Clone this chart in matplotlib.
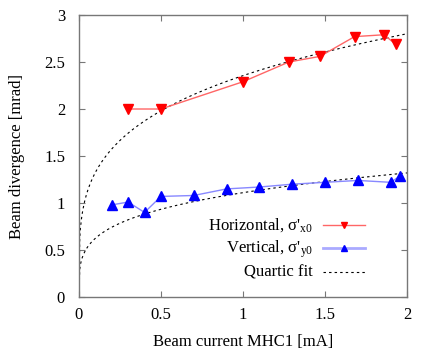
import numpy as np
import matplotlib
matplotlib.use("Agg")
import matplotlib.pyplot as plt

# measured beam divergence vs. beam current
hor_current = [0.30, 0.50, 1.00, 1.28, 1.47, 1.68, 1.86, 1.93]
hor_div = [2.00, 2.00, 2.29, 2.50, 2.56, 2.77, 2.79, 2.69]

ver_current = [0.20, 0.30, 0.40, 0.50, 0.70, 0.90, 1.10, 1.30, 1.50, 1.70, 1.90, 1.96]
ver_div = [0.98, 1.01, 0.90, 1.07, 1.08, 1.15, 1.17, 1.20, 1.22, 1.24, 1.22, 1.29]

# fit y = a * x^(1/4)
fit_coef_hor = 2.355
fit_coef_ver = 1.11

x_ticks = [0, 0.5, 1, 1.5, 2]
y_ticks = [0, 0.5, 1, 1.5, 2, 2.5, 3]

plt.rcParams['font.family'] = ['Liberation Serif', 'DejaVu Serif']
plt.rcParams['mathtext.fontset'] = 'stix'

fig = plt.figure(figsize=(4.36, 3.49), dpi=100)
ax = fig.add_axes([0.181, 0.149, 0.7525, 0.808])

fit_ls = (0, (2.2, 2.8))
xf = np.linspace(0, 2, 400)
ax.plot(xf, fit_coef_hor * xf ** 0.25, color='black', lw=0.8, ls=fit_ls)
ax.plot(xf, fit_coef_ver * xf ** 0.25, color='black', lw=0.8, ls=fit_ls)

ax.plot(hor_current, hor_div, color='#ff6666', lw=1.0)
ax.plot(hor_current, hor_div, ls='none', marker='v', ms=6.5, color='red', mec='red')
ax.plot(ver_current, ver_div, color='#8888ff', lw=1.0)
ax.plot(ver_current, ver_div, ls='none', marker='^', ms=6.5, color='blue', mec='blue')

ax.set_xlim(0, 2)
ax.set_ylim(0, 3)
ax.set_xticks(x_ticks)
ax.set_xticklabels(['0', '0.5', '1', '1.5', '2'])
ax.set_yticks(y_ticks)
ax.set_yticklabels(['0', '0.5', '1', '1.5', '2', '2.5', '3'])
ax.tick_params(direction='in', top=True, right=True, length=4, width=0.8,
               color='#777777', labelsize=12)
ax.tick_params(axis='y', pad=10)
ax.tick_params(axis='x', pad=7)
for s in ax.spines.values():
    s.set_color('#777777')
    s.set_linewidth(1.0)

ax.set_xlabel('Beam current MHC1 [mA]', fontsize=12, labelpad=8)
ax.set_ylabel('Beam divergence [mrad]', fontsize=12, labelpad=14)

# gnuplot-style key: right aligned text, sample on the right
labels = ["Horizontal, σ'$_{\\mathregular{x0}}$", "Vertical, σ'$_{\\mathregular{y0}}$", 'Quartic fit']
base = [0.238, 0.156, 0.071]
rows = [0.255, 0.174, 0.087]
tx = 0.713
lx0, lx1 = 0.744, 0.872
tr = ax.transAxes
for b, lab in zip(base, labels):
    ax.text(tx, b, lab, transform=tr, ha='right', va='baseline', fontsize=12)
ax.plot([lx0, lx1], [rows[0], rows[0]], transform=tr, color='#ff6666', lw=1.0)
ax.plot([(lx0 + lx1) / 2], [rows[0]], transform=tr, marker='v', ms=5, color='red')
ax.plot([lx0, lx1], [rows[1], rows[1]], transform=tr, color='#aaaaff', lw=2.0)
ax.plot([(lx0 + lx1) / 2], [rows[1]], transform=tr, marker='^', ms=5, color='blue')
ax.plot([lx0, lx1], [rows[2], rows[2]], transform=tr, color='black', lw=0.8, ls=fit_ls)

fig.savefig('out.png', dpi=100)
